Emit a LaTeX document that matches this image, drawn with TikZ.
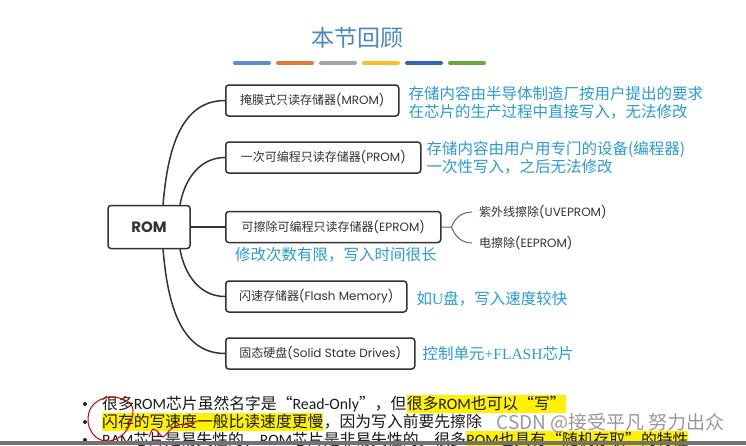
\documentclass[tikz,border=0pt]{standalone}
\usepackage{fontspec}
\usepackage{xcolor}
\usepackage{tikz}
\usetikzlibrary{positioning}

\newfontfamily\cjk{Noto Sans CJK SC}
\newfontfamily\lat{Poppins}
\newfontfamily\calib{Carlito}
\newfontfamily\serifl{Liberation Serif}

\definecolor{ink}{HTML}{333333}
\definecolor{titleblue}{HTML}{4A86C5}
\definecolor{noteblue}{HTML}{2A9BD6}
\definecolor{barA}{HTML}{5B8FC6}
\definecolor{barB}{HTML}{E07B39}
\definecolor{barC}{HTML}{A5A5A5}
\definecolor{barD}{HTML}{F2C12E}
\definecolor{barE}{HTML}{3565B8}
\definecolor{barF}{HTML}{6AA842}

\begin{document}
\begin{tikzpicture}[
  x=1pt, y=-1pt,
  font=\cjk,
  kind/.style    = {rectangle, rounded corners=3pt, draw=ink, line width=1.5pt,
                    minimum height=31pt, inner sep=0pt, text=ink,
                    font=\cjk\fontsize{12}{14}\selectfont},
  rootbox/.style = {kind, minimum width=82pt, minimum height=43pt,
                    font=\lat\bfseries\fontsize{15}{17}\selectfont},
  note/.style    = {align=left, inner sep=0pt, text=noteblue,
                    font=\cjk\fontsize{15.5}{18}\selectfont},
  sub/.style     = {inner xsep=7pt, inner ysep=0pt, text=ink,
                    font=\cjk\fontsize{12}{14}\selectfont},
  branch/.style  = {ink, line width=1.5pt},
  bar/.style     = {line width=4pt, line cap=round},
  btxt/.style    = {inner xsep=0pt, inner ysep=0pt, text height=14.5pt,
                    text depth=3.5pt, text=black!90,
                    font=\cjk\fontsize{15.8}{18}\selectfont},
  hl/.style      = {btxt, fill=yellow},
  pen/.style     = {red!85!black, line width=1pt, line cap=round, line join=round}
]
\useasboundingbox[fill=white] (0,0) rectangle (746,445);

% ---------- title ----------
\node[text=titleblue, font=\cjk\fontsize{23}{26}\selectfont] (title) at (357,38) {本节回顾};
\foreach \c [count=\i] in {barA,barB,barC,barD,barE,barF}
  \draw[bar, \c] (192+43*\i, 63) -- ++(34,0);

% ---------- mind map ----------
\node[rootbox] (rom) at (149,227) {ROM};
\node[kind, minimum width=173pt, anchor=west] (mrom)  at (225,100.5) {掩膜式只读存储器{\lat (MROM)}};
\node[kind, minimum width=195pt, anchor=west] (prom)  at (225,157.5) {一次可编程只读存储器{\lat (PROM)}};
\node[kind, minimum width=215pt, anchor=west] (eprom) at (225,227) {可擦除可编程只读存储器{\lat (EPROM)}};
\node[kind, minimum width=181pt, anchor=west] (flash) at (225,296.5) {闪速存储器{\lat (Flash Memory)}};
\node[kind, minimum width=189pt, anchor=west] (ssd)   at (225,353.5) {固态硬盘{\lat (Solid State Drives)}};

\draw[branch] (rom.east) -- (eprom.west);
\draw[branch] ([xshift=14pt]rom.north) to[out=85,in=180] (mrom.west);
\draw[branch] ([xshift=31pt]rom.north) to[out=80,in=180] (prom.west);
\draw[branch] ([xshift=31pt]rom.south) to[out=-80,in=180] (flash.west);
\draw[branch] ([xshift=14pt]rom.south) to[out=-85,in=180] (ssd.west);

% EPROM kinds
\coordinate (fork) at ([xshift=10pt]eprom.east);
\node[sub, anchor=west] (uv) at (472,212) {紫外线擦除{\lat (UVEPROM)}};
\node[sub, anchor=west] (ee) at (472,243) {电擦除{\lat (EEPROM)}};
\draw[ink!75, line width=1pt] (eprom.east) -- (fork) to[out=70,in=180] (uv.west);
\draw[ink!75, line width=1pt] (fork) to[out=-70,in=180] (ee.west);

% ---------- notes ----------
\node[note, right=9pt of mrom, yshift=-2.5pt] (mromnote)
  {存储内容由半导体制造厂按用户提出的要求\\在芯片的生产过程中直接写入，无法修改};
\node[note, right=5pt of prom] (promnote)
  {存储内容由用户用专门的设备(编程器)\\一次性写入，之后无法修改};
\node[note, below right=4pt and 10pt of eprom.south west] (epromnote)
  {修改次数有限，写入时间很长};
\node[note, right=9pt of flash, yshift=-2.5pt] (flashnote) {如{\serifl U}盘，写入速度较快};
\node[note, right=7pt of ssd] (ssdnote) {控制单元{\serifl +FLASH}芯片};

% ---------- bullets ----------
\foreach \yb in {404,422,440}
  \fill[black!85] (85,\yb) circle (2pt);

\node[btxt, anchor=base west] (b1a) at (102,409.5)
  {很多{\calib ROM}芯片虽然名字是“{\calib Read-Only}”，但};
\node[hl, base right=0pt of b1a] (b1b) {很多{\calib ROM}也可以“写”};
\node[hl, anchor=base west] (b2a) at (102,427.5) {闪存的写速度一般比读速度更慢};
\node[btxt, base right=0pt of b2a] (b2b) {，因为写入前要先擦除};
\node[btxt, anchor=base west] (b3a) at (102,445.5)
  {{\calib RAM}芯片是易失性的，{\calib ROM}芯片是非易失性的。很多};
\node[hl, base right=0pt of b3a] (b3b) {{\calib ROM}也具有“随机存取”的特性};

% hand marks
\draw[pen] plot[smooth, tension=0.7] coordinates
  {(127,401) (112,397) (95,403) (88,418) (93,434) (106,441) (121,436) (130,424) (133,410) (129,402)};
\draw[pen] plot[smooth] coordinates
  {(149,437) (153,429) (158,432) (163,437) (170,430) (178,425) (188,424) (197,421)};

% watermark + player bar
\node[text=black!40, font=\cjk\fontsize{19}{21}\selectfont, anchor=west] (mark) at (493,423)
  {CSDN @接受平凡 努力出众};
\fill[black!55] (0,441) rectangle (746,445);

\end{tikzpicture}
\end{document}
